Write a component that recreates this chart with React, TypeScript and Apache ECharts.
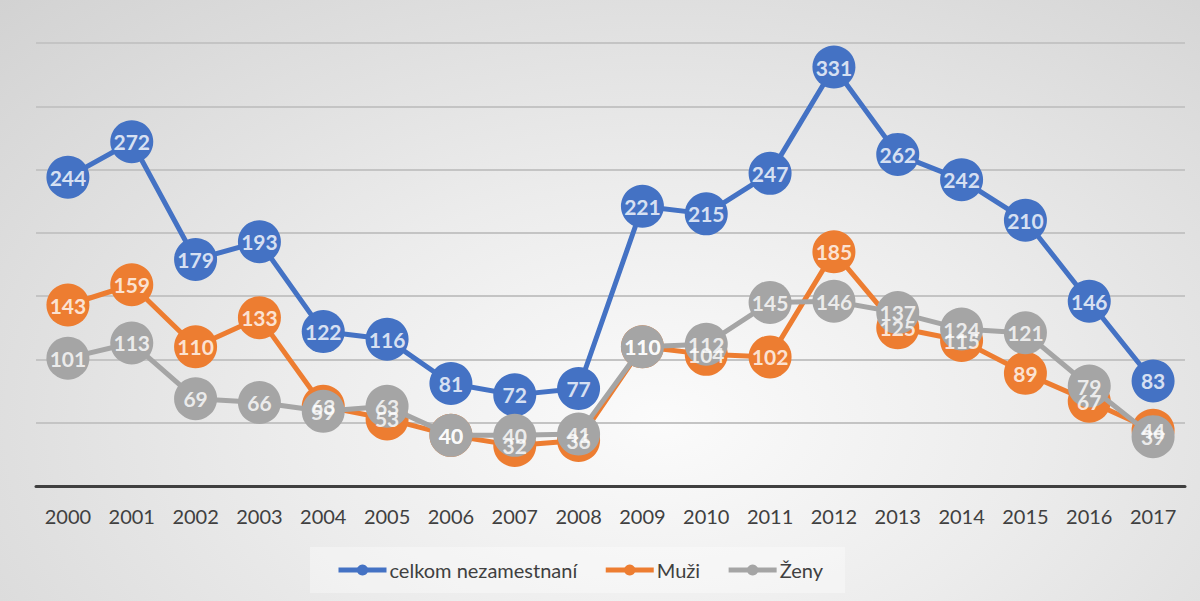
import React, { useEffect, useRef } from "react";
import * as echarts from "echarts";

const years = ["2000","2001","2002","2003","2004","2005","2006","2007","2008","2009","2010","2011","2012","2013","2014","2015","2016","2017"];
const celkom = [244, 272, 179, 193, 122, 116, 81, 72, 77, 221, 215, 247, 331, 262, 242, 210, 146, 83];
const muzi = [143, 159, 110, 133, 63, 53, 40, 32, 36, 110, 104, 102, 185, 125, 115, 89, 67, 44];
const zeny = [101, 113, 69, 66, 59, 63, 40, 40, 41, 110, 112, 145, 146, 137, 124, 121, 79, 39];

const names = ["celkom nezamestnaní", "Muži", "Ženy"];
const colors = ["#4472C4", "#ED7D31", "#A5A5A5"];
const seriesData = [celkom, muzi, zeny];

export default function App() {
  const ref = useRef<HTMLDivElement>(null);
  useEffect(() => {
    const chart = echarts.init(ref.current!, null, { renderer: "svg" });
    const font = "Lato, 'Noto Sans', sans-serif";
    const lines: any[] = seriesData.map((d, i) => ({
      name: names[i],
      type: "line",
      data: d,
      color: colors[i],
      symbol: "circle",
      symbolSize: 43,
      lineStyle: { width: 5, color: colors[i] },
      itemStyle: { color: colors[i] },
      label: { show: false },
      z: 2 + i,
    }));
    const labels: any[] = seriesData.map((d, i) => ({
      name: names[i] + " label",
      type: "scatter",
      data: d,
      symbolSize: 2,
      itemStyle: { color: "rgba(0,0,0,0)" },
      silent: true,
      label: {
        show: true,
        position: "inside",
        color: "#ffffff",
        fontSize: 21,
        fontWeight: "bold",
        fontFamily: font,
      },
      z: 10,
    }));
    chart.setOption({
      animation: false,
      grid: { left: 36, right: 15, top: 43, bottom: 115 },
      legend: {
        data: names.map((n, i) => ({ name: n, itemStyle: { color: colors[i] } })),
        bottom: 8,
        left: 310,
        itemWidth: 48,
        itemHeight: 14,
        itemGap: 26,
        padding: [13, 22, 13, 26],
        backgroundColor: "rgba(255,255,255,0.35)",
        lineStyle: { width: 5 },
        textStyle: { fontSize: 20, color: "#404040", fontFamily: font, padding: [0, 0, 0, -2] },
      },
      xAxis: {
        type: "category",
        data: years,
        axisLine: { lineStyle: { color: "#404040", width: 3 } },
        axisTick: { show: false },
        axisLabel: { fontSize: 20, color: "#404040", fontFamily: font, margin: 20 },
      },
      yAxis: {
        type: "value",
        min: 0,
        max: 350,
        interval: 50,
        axisLabel: { show: false },
        axisLine: { show: false },
        axisTick: { show: false },
        splitLine: { lineStyle: { color: "#c4c4c4", width: 2 } },
      },
      series: [...lines, ...labels],
    });
    return () => chart.dispose();
  }, []);
  return (
    <div
      style={{
        position: "absolute",
        left: 0,
        top: 0,
        width: 1200,
        height: 601,
        background: "radial-gradient(ellipse at 55% 70%, #fbfbfb 0%, #ececec 40%, #d2d2d2 100%)",
      }}
    >
      <div ref={ref} style={{ width: 1200, height: 601 }} />
    </div>
  );
}
